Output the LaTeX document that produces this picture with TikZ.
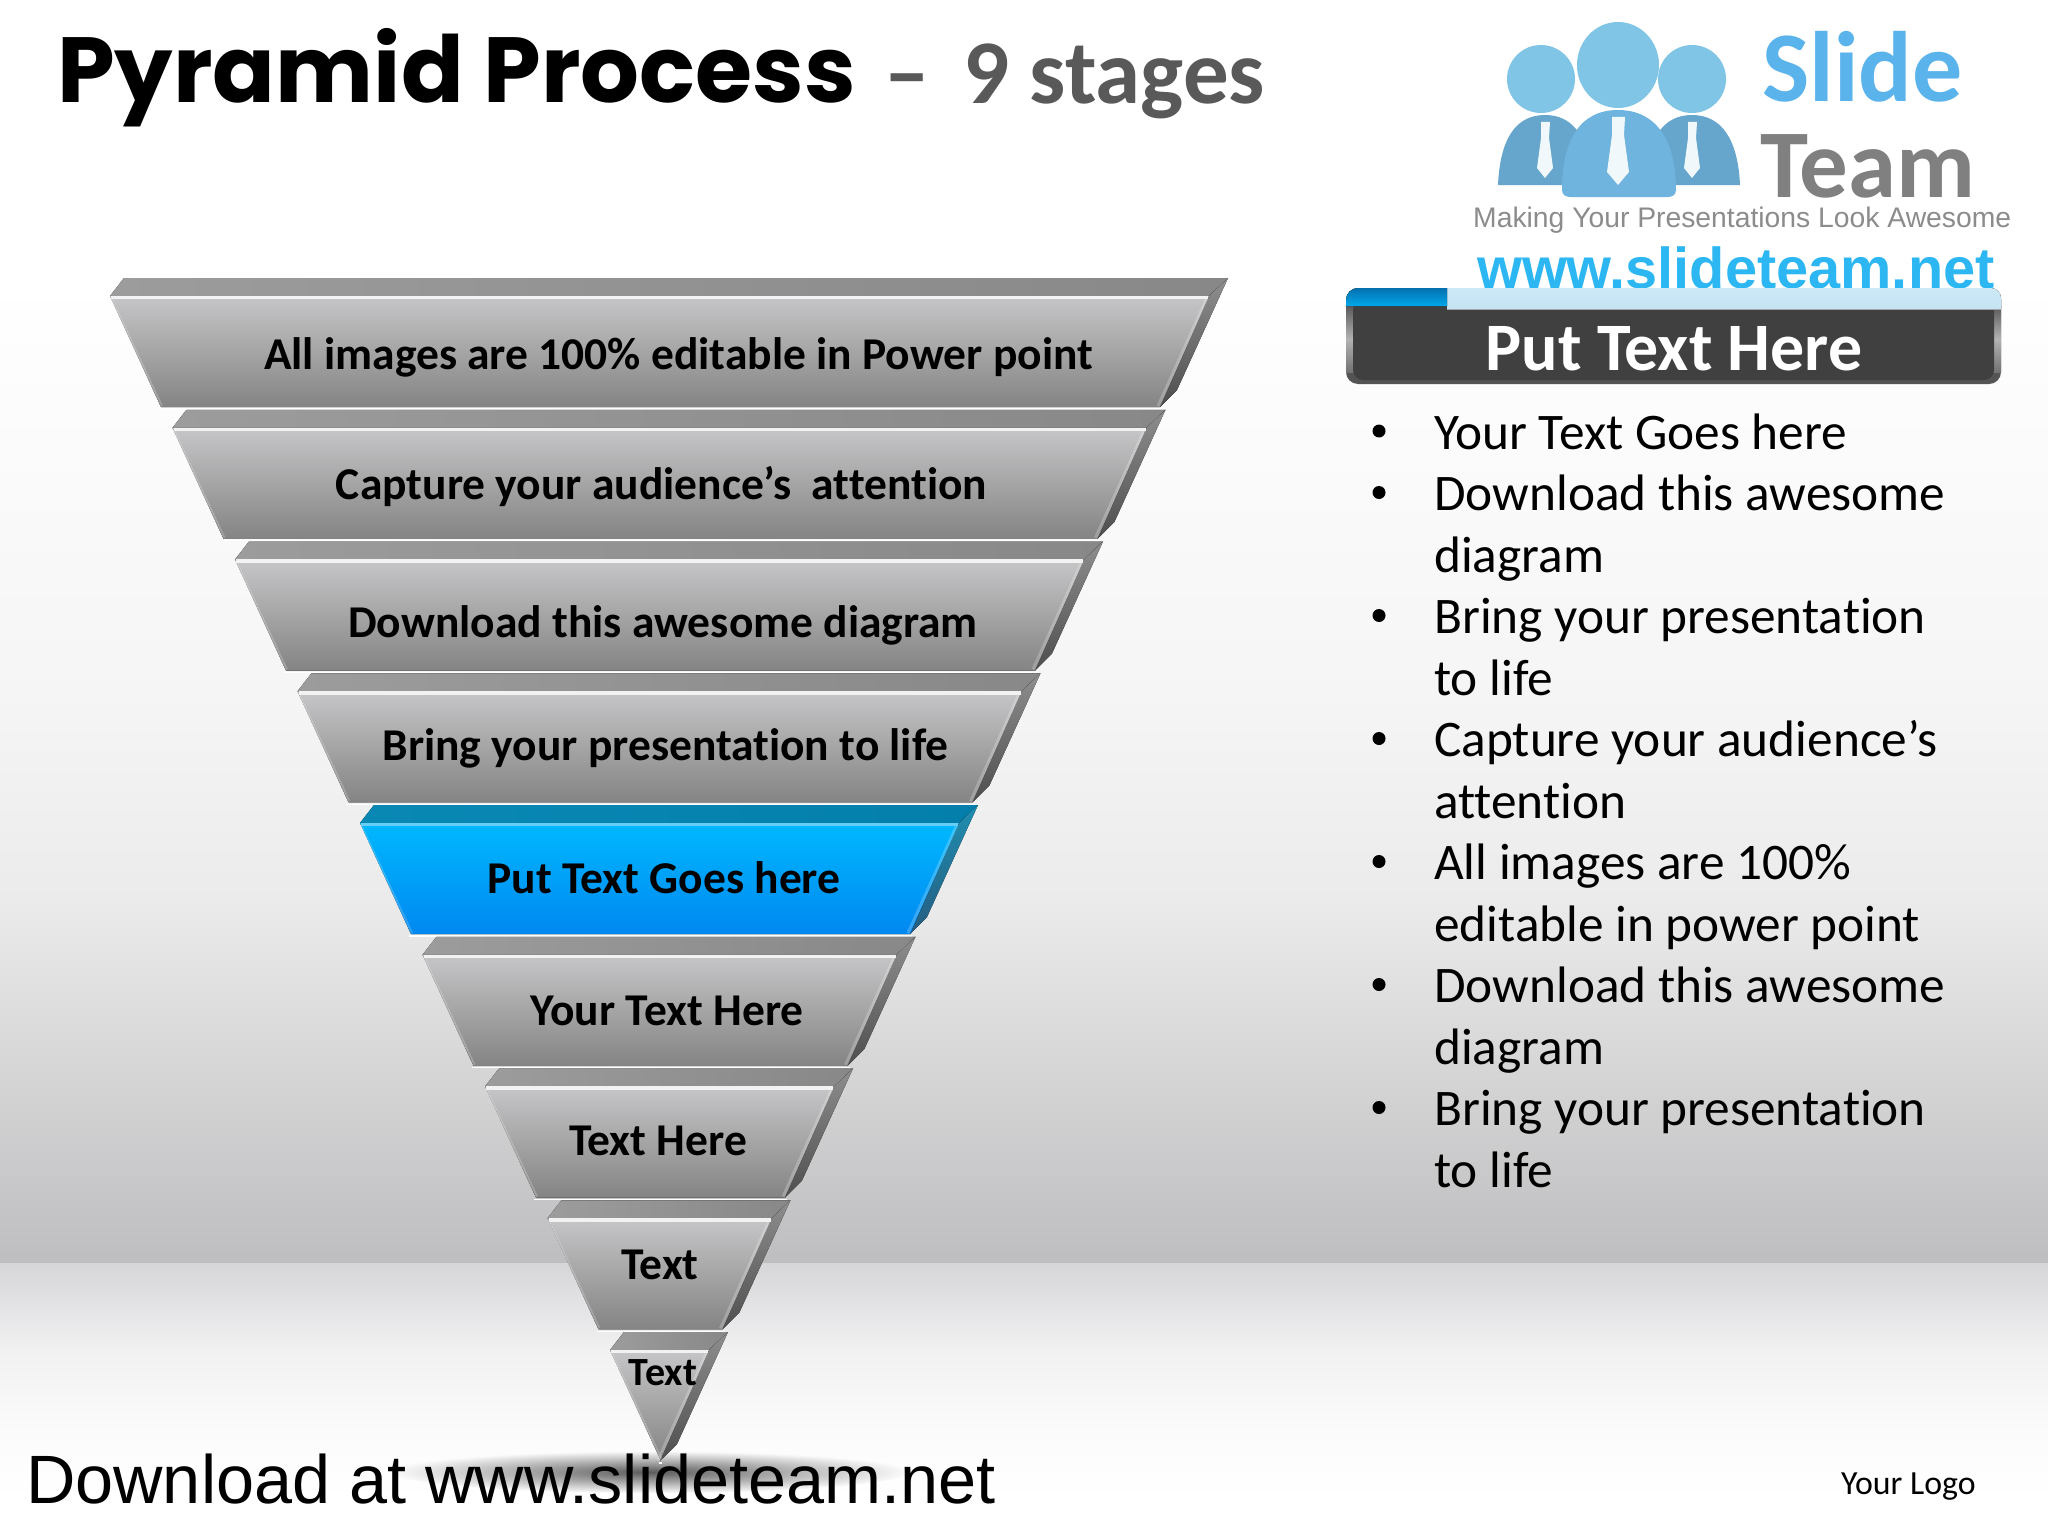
\documentclass[tikz,border=0pt]{standalone}
\usepackage{fontspec}
\setmainfont[Ligatures=NoCommon]{Carlito}
\newfontfamily\arialf{Liberation Sans}
\newfontfamily\popf{Poppins}
\usetikzlibrary{calc}
\definecolor{gfa}{HTML}{C6C6C8}\definecolor{gfb}{HTML}{848484}
\definecolor{gta}{HTML}{9C9C9C}\definecolor{gtb}{HTML}{888888}
\definecolor{gsa}{HTML}{8E8E8E}\definecolor{gsb}{HTML}{4E4E4E}
\definecolor{bfa}{HTML}{00B8FF}\definecolor{bfb}{HTML}{0088F0}
\definecolor{bta}{HTML}{0A88B4}\definecolor{btb}{HTML}{047FAC}
\definecolor{bsa}{HTML}{1F8FB0}\definecolor{bsb}{HTML}{265C80}
\definecolor{logob}{HTML}{6FB4DE}\definecolor{logoh}{HTML}{80C4E6}
\definecolor{wwwc}{HTML}{2DB7F2}\definecolor{slidec}{HTML}{5BB3EC}
\definecolor{stripa}{HTML}{CDE9F7}\definecolor{stripb}{HTML}{C4E3F3}
\definecolor{taba}{HTML}{0470AE}\definecolor{tabb}{HTML}{00A8EA}
\definecolor{bga}{HTML}{F5F5F5}\definecolor{bgb}{HTML}{EBEBEB}\definecolor{bgc}{HTML}{D8D8D9}\definecolor{bgd}{HTML}{BEBDBF}
\definecolor{bge}{HTML}{D6D5D8}\definecolor{bgf}{HTML}{F1F1F2}\definecolor{bgg}{HTML}{FBFBFC}
\tikzset{
 tierlabel/.style={anchor=base,inner sep=0pt,font=\bfseries\fontsize{45.5}{50}\selectfont,text=black},
 listline/.style={anchor=base west,inner sep=0pt,font=\fontsize{51.3}{60}\selectfont,text=black},
 bulletdot/.style={circle,fill=black,inner sep=0pt,minimum size=13pt}
}
\newcommand{\tierdraw}[8]{%
 \pgfmathsetmacro{\dx}{62.5*#1}\pgfmathsetmacro{\dy}{131.75*#1}
 \coordinate (bl#1) at ({124+\dx},{278+\dy});
 \coordinate (br#1) at ({1228-\dx},{278+\dy});
 \coordinate (fl#1) at ({110+\dx},{296+\dy});
 \coordinate (fr#1) at ({1209-\dx},{296+\dy});
 \coordinate (ll#1) at ({161+\dx},{407+\dy});
 \coordinate (lr#1) at ({1160-\dx},{407+\dy});
 \coordinate (sk#1) at ({1177-\dx},{390+\dy});
 \fill[left color=#4,right color=#5] (bl#1)--(br#1)--(fr#1)--(fl#1)--cycle;
 \fill[top color=#6,bottom color=#7] (br#1)--(sk#1)--(lr#1)--(fr#1)--cycle;
 \fill[top color=#2,bottom color=#3] (fl#1)--(fr#1)--(lr#1)--(ll#1)--cycle;
 \draw[white,opacity=.22,line width=3pt] ($(fr#1)+(-2,2)$)--($(lr#1)+(-2,-1)$);
 \draw[white,opacity=.2,line width=2pt] ($(fl#1)+(1,2)$)--($(ll#1)+(1,-1)$);
 \draw[#8,line width=3.5pt] ($(fl#1)+(1,1.5)$)--($(fr#1)+(-1,1.5)$);
 \draw[white,line width=1.2pt] ($(ll#1)+(-2,2)$)--($(lr#1)+(2,2)$);
}
\begin{document}
\begin{tikzpicture}[x=1pt,y=-1pt]
\useasboundingbox (0,0) rectangle (2048,1536);
% background
\fill[white] (0,0) rectangle (2048,1536);
\fill[top color=white,bottom color=bga] (0,280) rectangle (2048,700.5);
\fill[top color=bga,bottom color=bgb] (0,700) rectangle (2048,900.5);
\fill[top color=bgb,bottom color=bgc] (0,900) rectangle (2048,1050.5);
\fill[top color=bgc,bottom color=bgd] (0,1050) rectangle (2048,1263);
\fill[top color=bge,bottom color=bgf] (0,1263) rectangle (2048,1350.5);
\fill[top color=bgf,bottom color=bgg] (0,1350) rectangle (2048,1430.5);
\fill[top color=bgg,bottom color=white] (0,1430) rectangle (2048,1500);
% shadow
\shade[inner color=white!36!black,outer color=bgg] (650,1472) ellipse [x radius=258,y radius=21];
% tiers
\tierdraw{0}{gfa}{gfb}{gta}{gtb}{gsa}{gsb}{white!95!black}
\tierdraw{1}{gfa}{gfb}{gta}{gtb}{gsa}{gsb}{white!95!black}
\tierdraw{2}{gfa}{gfb}{gta}{gtb}{gsa}{gsb}{white!95!black}
\tierdraw{3}{gfa}{gfb}{gta}{gtb}{gsa}{gsb}{white!95!black}
\tierdraw{4}{bfa}{bfb}{bta}{btb}{bsa}{bsb}{cyan!60!white}
\tierdraw{5}{gfa}{gfb}{gta}{gtb}{gsa}{gsb}{white!95!black}
\tierdraw{6}{gfa}{gfb}{gta}{gtb}{gsa}{gsb}{white!95!black}
\tierdraw{7}{gfa}{gfb}{gta}{gtb}{gsa}{gsb}{white!95!black}
\tierdraw{8}{gfa}{gfb}{gta}{gtb}{gsa}{gsb}{white!95!black}
% tier labels
\node[tierlabel] (t1) at (678.5,369) {All images are 100\% editable in Power point};
\node[tierlabel] (t2) at (661.5,499) {Capture your audience’s\ \ attention};
\node[tierlabel] (t3) at (663,637) {Download this awesome diagram};
\node[tierlabel] (t4) at (665.5,760) {Bring your presentation to life};
\node[tierlabel] (t5) at (664,893) {Put Text Goes here};
\node[tierlabel] (t6) at (667,1025) {Your Text Here};
\node[tierlabel] (t7) at (658,1155) {Text Here};
\node[tierlabel] (t8) at (660,1279) {Text};
\node[tierlabel,font=\bfseries\fontsize{40}{44}\selectfont] (t9) at (663,1385) {Text};
% title
\node[anchor=base west,inner sep=0pt,font=\popf\bfseries\fontsize{92.5}{100}\selectfont] (title) at (57,103) {Pyramid Process};
\node[anchor=base west,inner sep=0pt,text=white!35!black,font=\bfseries\fontsize{91}{100}\selectfont] (subtitle) at (884,104) {\makebox[79pt][l]{–}9 stages};
% logo persons
\fill[logob!92!black] (1498,185) .. controls (1500,140) and (1515,115) .. (1545,115) .. controls (1575,115) and (1590,140) .. (1592,185) -- cycle;
\fill[logob!92!black] (1645,185) .. controls (1647,140) and (1662,115) .. (1692,115) .. controls (1722,115) and (1738,140) .. (1740,185) -- cycle;
\fill[white!90!logob] (1541,122)--(1550,122)--(1549,138)--(1553,168)--(1545,178)--(1537,168)--(1541,138)--cycle;
\fill[white!90!logob] (1688,122)--(1697,122)--(1696,138)--(1700,168)--(1692,178)--(1684,168)--(1688,138)--cycle;
\fill[logoh] (1541,79) ellipse [x radius=34,y radius=34];
\fill[logoh] (1692,79) ellipse [x radius=34,y radius=34];
\fill[logob] (1562,190) .. controls (1562,140) and (1580,110) .. (1618,110) .. controls (1656,110) and (1676,140) .. (1676,190) .. controls (1676,195) and (1672,197) .. (1668,197) -- (1570,197) .. controls (1566,197) and (1562,195) .. (1562,190) -- cycle;
\fill[logoh] (1618,65) ellipse [x radius=41,y radius=43];
\fill[white!90!logob] (1612,117)--(1625,117)--(1624,135)--(1629,172)--(1618,185)--(1607,172)--(1612,135)--cycle;
\node[anchor=base west,inner sep=0pt,text=slidec,font=\bfseries\fontsize{100}{100}\selectfont] (slide) at (1762,102) {Slide};
\node[anchor=base west,inner sep=0pt,text=white!50!black,font=\bfseries\fontsize{97}{100}\selectfont] (team) at (1760,197) {Team};
\node[anchor=base west,inner sep=0pt,text=white!55!black,font=\arialf\fontsize{28.3}{36}\selectfont] (tag) at (1473,227) {Making Your Presentations Look Awesome};
\node[anchor=base west,inner sep=0pt,text=wwwc,font=\arialf\bfseries\fontsize{57.7}{60}\selectfont] (www) at (1477,288) {www.slideteam.net};
% panel
\fill[white!33!black,rounded corners=12pt] (1346,288) rectangle (2001,384);
\fill[top color=white!35!black,bottom color=white!45!black,middle color=white!70!black] (1346,306) rectangle (1354,372);
\fill[top color=white!35!black,bottom color=white!45!black,middle color=white!70!black] (1993,306) rectangle (2001,372);
\fill[white!25!black,rounded corners=10pt] (1353,300) rectangle (1994,380);
\fill[top color=stripa,bottom color=stripb] (1447,309)--(1447,288)[rounded corners=10pt]--(2001,288)[sharp corners]--(2001,309)--cycle;
\fill[top color=taba,bottom color=tabb] (1447,306)--(1447,288)[rounded corners=12pt]--(1346,288)[sharp corners]--(1346,306)--cycle;
\draw[white!65!black,line width=1.5pt] (1447,309.5)--(2001,309.5);
\node[anchor=base,inner sep=0pt,text=white,font=\bfseries\fontsize{67.9}{70}\selectfont] (panel) at (1674,370) {Put Text Here};
% list
\node[listline] (l0) at (1434,449) {Your Text Goes here};
\node[listline] (l1) at (1434,510.5) {Download this awesome};
\node[listline] (l2) at (1434,572) {diagram};
\node[listline] (l3) at (1434,633.5) {Bring your presentation};
\node[listline] (l4) at (1434,695) {to life};
\node[listline] (l5) at (1434,756.5) {Capture your audience’s};
\node[listline] (l6) at (1434,818) {attention};
\node[listline] (l7) at (1434,879.5) {All images are 100\%};
\node[listline] (l8) at (1434,941) {editable in power point};
\node[listline] (l9) at (1434,1002.5) {Download this awesome};
\node[listline] (l10) at (1434,1064) {diagram};
\node[listline] (l11) at (1434,1125.5) {Bring your presentation};
\node[listline] (l12) at (1434,1187) {to life};
\foreach \n/\yy in {a/431,b/492.5,c/615.5,d/738.5,e/861.5,f/984.5,g/1107.5}
  \node[bulletdot] (bu\n) at (1379,\yy) {};
% footer
\node[anchor=base west,inner sep=0pt,font=\arialf\fontsize{68.4}{72}\selectfont] (dl) at (26,1503) {Download at www.slideteam.net};
\node[anchor=base west,inner sep=0pt,font=\fontsize{33.8}{36}\selectfont] (logo) at (1841,1494) {Your Logo};
\end{tikzpicture}
\end{document}
